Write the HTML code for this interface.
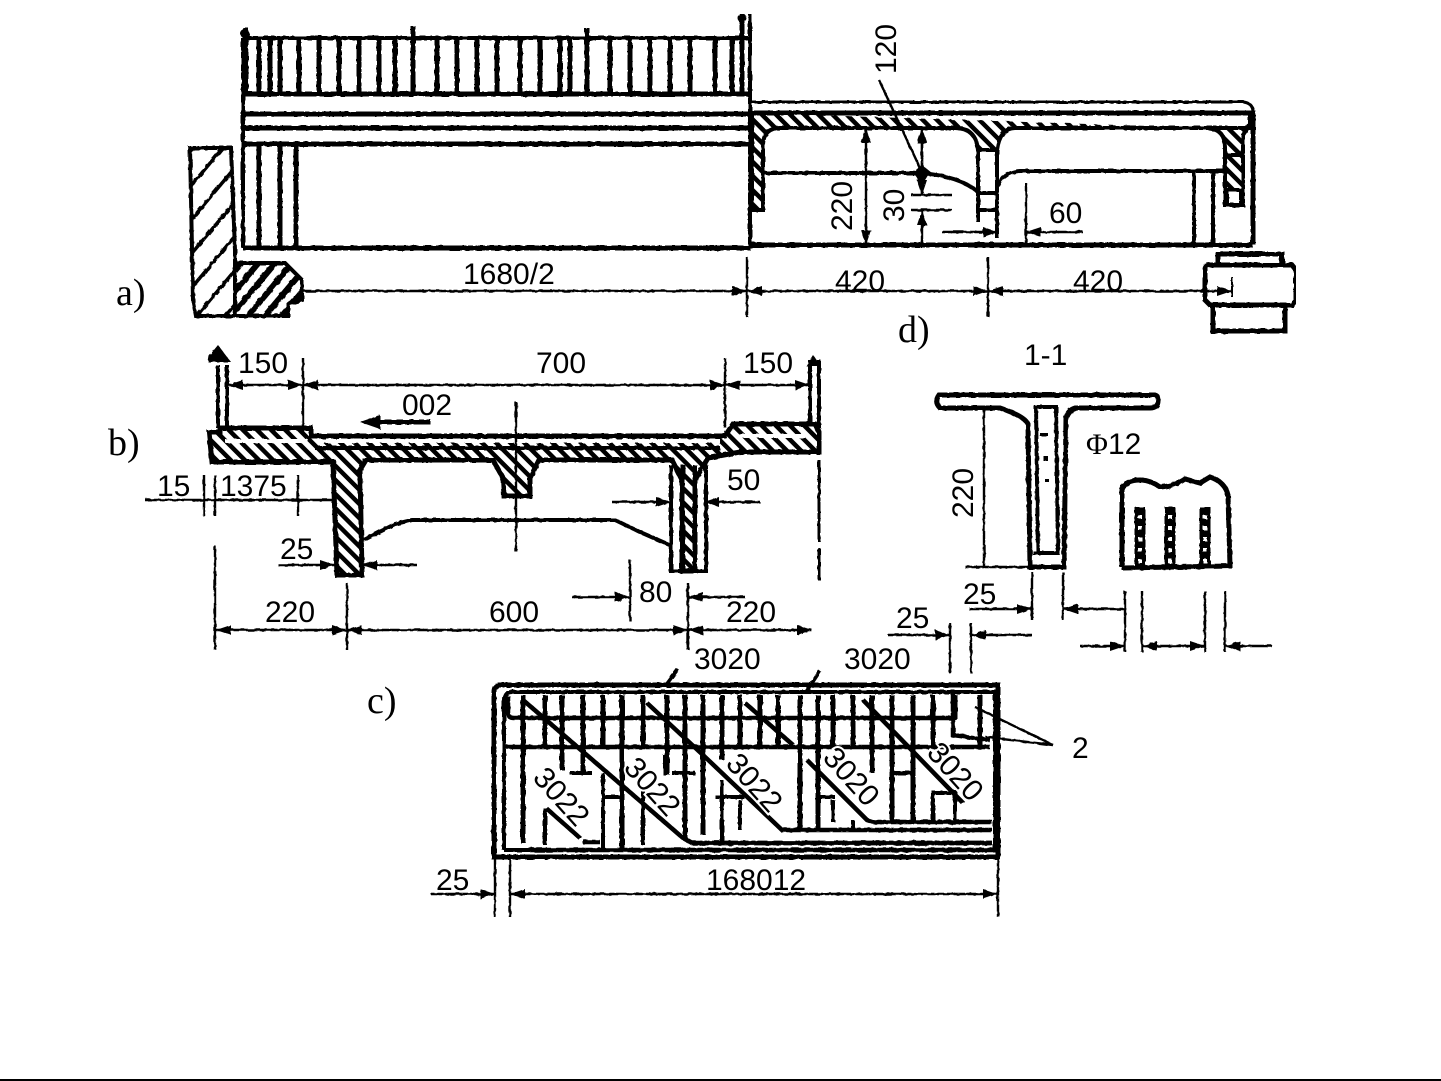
<!DOCTYPE html>
<html><head><meta charset="utf-8"><style>
html,body{margin:0;padding:0;background:#fff}
svg{display:block}
text{font-family:"Liberation Sans",sans-serif;font-size:30px;fill:#000}
.s{font-family:"Liberation Serif",serif;font-size:38px}
.d{stroke:#fff;stroke-width:4;paint-order:stroke;text-anchor:middle;dominant-baseline:central}
</style></head><body>
<svg width="1441" height="1081" viewBox="0 0 1441 1081" xmlns="http://www.w3.org/2000/svg">
<defs>
<marker id="a" markerUnits="userSpaceOnUse" markerWidth="16" markerHeight="12" refX="15" refY="5" orient="auto-start-reverse"><path d="M0 0L15 5L0 10Z"/></marker>
<pattern id="h" width="13" height="13" patternUnits="userSpaceOnUse" patternTransform="rotate(-50)"><rect width="13" height="13" fill="#fff"/><rect width="13" height="6" fill="#000"/></pattern>
<pattern id="k" width="10" height="10" patternUnits="userSpaceOnUse" patternTransform="rotate(45)"><rect width="10" height="10" fill="#fff"/><rect width="10" height="4.5" fill="#000"/></pattern>
<pattern id="w" width="22" height="22" patternUnits="userSpaceOnUse" patternTransform="rotate(-50)"><rect width="22" height="22" fill="#fff"/><rect width="22" height="3.5" fill="#000"/></pattern>
<filter id="r" x="0" y="0" width="100%" height="100%"><feTurbulence type="fractalNoise" baseFrequency="0.18" numOctaves="2" seed="4"/><feDisplacementMap in="SourceGraphic" scale="2.5"/></filter>
</defs>
<rect width="1441" height="1081" fill="#fff"/>
<g filter="url(#r)" fill="none" stroke="#000" stroke-width="3">
<!-- a: elevation -->
<path stroke-width="4" d="M243 248V38M243 38H748M750 14V248"/>
<path stroke-width="5" d="M243 94H750M243 114H750M243 128H750M243 144H750M243 248H750"/>
<path stroke-width="5" d="M246 28V92M259 38V92M270 38V92M280 38V92M299 38V92M319 38V92M339 38V92M359 38V92M379 38V92M395 38V92M413 26V92M437 38V92M457 38V92M477 38V92M497 38V92M520 38V92M540 38V92M560 38V92M570 38V92M587 28V92M610 38V92M630 38V92M650 38V92M670 38V92M690 38V92M715 38V92M732 38V92M742 14V92"/>
<path stroke-width="5" d="M259 144V248M280 144V248M296 144V248"/>
<circle cx="245" cy="34" r="3"/><circle cx="742" cy="18" r="3"/>
<path stroke-width="4" fill="url(#w)" d="M190 148H231L235 250V316H196L193 300Z"/>
<path stroke-width="4" fill="url(#h)" d="M235 263H285L302 280V300L288 304V316H235Z"/>
<!-- a: section -->
<path stroke-width="3" d="M750 102H1243Q1253 103 1253 112"/>
<path stroke-width="5" d="M750 113H1253V245M750 245H1253"/>
<path stroke-width="4" d="M750 100V248"/>
<path fill="url(#k)" stroke-width="4" d="M752 113H1250V128H1209Q1225 130 1225 147V205H1243V135L1253 120V113M752 113V210H763V144Q764 128 780 128H955Q976 128 978 150L997 150Q1000 128 1015 128H1209"/>
<path fill="#fff" stroke-width="4" d="M978 150V222M997 150V238M978 193H997M978 210H997M1225 155H1243M1227 190H1241V205H1227Z"/>
<path stroke-width="4" d="M763 173H920Q960 176 978 192M998 186Q1004 172 1020 171H1225"/>
<path stroke-width="4" d="M1194 172V245M1213 172V245"/>
<path stroke-width="5" d="M1205 270Q1205 265 1210 265H1292L1296 270V300L1292 305H1210L1205 300ZM1218 265V254H1282V265M1213 305V331H1285V305"/>
<path stroke-width="2" d="M1232 277V297"/>
<!-- a dims -->
<g stroke-width="2.4">
<path d="M747 257V317M988 257V317"/>
<path marker-end="url(#a)" d="M302 291H747"/>
<path marker-start="url(#a)" marker-end="url(#a)" d="M747 291H988"/>
<path marker-start="url(#a)" marker-end="url(#a)" d="M988 291H1232"/>
<path marker-start="url(#a)" marker-end="url(#a)" d="M866 128V245"/>
<path marker-start="url(#a)" d="M922 128V195"/>
<path marker-end="url(#a)" d="M922 245V210"/>
<path marker-end="url(#a)" d="M922 130V195"/>
<path d="M911 195H952M911 210H952M1026 183V245"/>
<path d="M879 80L920 168"/>
<path marker-end="url(#a)" d="M942 232H998"/>
<path marker-end="url(#a)" d="M1083 232H1026"/>
</g>
<path fill="#000" stroke="none" d="M913 172L930 172L922 185ZM922 165L932 173H914Z"/>
<!-- b section -->
<path stroke-width="4" d="M218 365V428M227 365V428M810 360V428M819 360V428"/>
<path fill="#000" stroke="none" d="M218 345L231 362L208 362L209 356ZM813 355L821 366H806Z"/>
<path fill="url(#k)" stroke-width="5" d="M209 432H220V428H311V436H725L733 424H815L819 432V452H740L708 458L695 480V571H682V480L672 460H539L530 478V496H504L503 478L493 460H366L360 470L362 575H337L333 462H212Z"/>
<path stroke="#fff" stroke-width="4" d="M225 441H308M738 436H808M318 441H720"/>
<path stroke-width="4" d="M315 436H725M315 448H720M362 460H495M537 460H672"/>
<path stroke-width="4" d="M671 465V571H706V465M683 465V571M695 465V571"/>
<path stroke-width="4" d="M362 541L395 524L412 520H615L640 532L672 546"/>
<path stroke-width="3" d="M819 460V542M819 548V580"/>
<!-- b dims -->
<g stroke-width="2.4">
<path d="M303 358V432M725 358V428M516 402V552M145 500H333M204 475V516M215 475V516M298 475V516M215 546V650M347 583V650M688 583V650M630 560V621"/>
<path marker-start="url(#a)" marker-end="url(#a)" d="M228 385H303"/>
<path marker-start="url(#a)" marker-end="url(#a)" d="M303 385H725"/>
<path marker-start="url(#a)" marker-end="url(#a)" d="M725 385H810"/>
<path marker-end="url(#a)" d="M278 565H335"/>
<path marker-end="url(#a)" d="M417 565H362"/>
<path marker-end="url(#a)" d="M612 502H671"/>
<path marker-end="url(#a)" d="M760 502H704"/>
<path marker-end="url(#a)" d="M572 597H630"/>
<path marker-end="url(#a)" d="M745 597H688"/>
<path marker-start="url(#a)" marker-end="url(#a)" d="M216 630H347"/>
<path marker-start="url(#a)" marker-end="url(#a)" d="M347 630H688"/>
<path marker-start="url(#a)" marker-end="url(#a)" d="M688 630H812"/>
</g>
<path stroke-width="5" d="M431 422H375"/><path fill="#000" stroke="none" d="M360 422L380 415V429Z"/>
<!-- c -->
<path stroke-width="5" d="M498 685H998V857H494V692Q494 685 500 685Z"/>
<path stroke-width="4" d="M504 850V700Q504 692 512 692H995V850H504"/>
<path stroke-width="4.5" d="M508 696V713Q508 718 514 718H953M502 747H990M953 693V735L990 740"/>
<path stroke-width="5" d="M523 695V843M545 695V747M562 695V770M583 695V773M603 695V747M622 695V850M643 695V747M667 695V775M685 695V840M703 695V835M722 695V760M740 695V747M760 695V747M778 695V745M800 695V830M818 695V830M833 695V745M853 695V745M872 695V773M892 695V822M913 695V822M933 695V745M955 695V720M980 695V745"/>
<path stroke-width="4" d="M545 808V845M603 773V850M643 790V845M722 780V845M740 800V830M818 790V822M833 800V822M853 820V830M913 800V822M933 790V822M955 790V822M665 755V775M570 773H592M603 797H620M672 773H695M715 797H745M818 797H835M890 773H912M933 793H955"/>
<path stroke-width="4.5" d="M523 700L683 838L692 843H992M647 703L703 755L782 830H992M745 703L793 745M807 760L867 820L873 822H992M863 700L963 803M546 808L580 838"/>
<path stroke-width="4.5" d="M583 842H600M530 850H992M700 843H992"/>
<path stroke-width="3.5" d="M678 669L666 685M820 671L806 692"/>
<path stroke-width="2.4" d="M1053 745L975 707M1053 745L985 737"/>
<g stroke-width="2.4">
<path d="M495 857V917M510 857V917M998 857V917"/>
<path marker-end="url(#a)" d="M431 894H495"/>
<path marker-start="url(#a)" marker-end="url(#a)" d="M510 894H998"/>
</g>
<!-- d -->
<path stroke-width="5" d="M939 395H1155Q1159 396 1158 401Q1158 408 1150 408H1075Q1068 410 1066 418L1064 567H1030L1028 424Q1024 416 1000 408H940Q934 402 939 395Z"/>
<path stroke-width="4" d="M1036 407H1056L1058 553H1038ZM1033 553H1060"/>
<path fill="#000" stroke="none" d="M1040 433h8v3h-8zM1043 456h5v5h-5zM1045 479h4v3h-4z"/>
<path stroke-width="5" d="M1122 567V490Q1125 480 1140 480Q1150 480 1160 487Q1175 486 1185 479L1200 483L1210 477Q1225 482 1228 495L1230 566L1122 568"/>
<path stroke-width="11" d="M1140 507V567M1170 507V567M1205 507V567"/>
<path stroke="#fff" stroke-width="4" stroke-dasharray="4 7" d="M1140 515V565M1170 515V565M1205 515V565"/>
<g stroke-width="2.4">
<path d="M984 408V567M965 567H1030M1032 572V620M1063 572V620M950 623V673M971 623V673M1125 591V652M1142 591V652M1205 591V652M1225 591V652"/>
<path marker-end="url(#a)" d="M969 609H1032"/>
<path marker-end="url(#a)" d="M1125 609H1063"/>
<path marker-end="url(#a)" d="M888 635H950"/>
<path marker-end="url(#a)" d="M1032 635H971"/>
<path marker-end="url(#a)" d="M1080 646H1125"/>
<path marker-start="url(#a)" marker-end="url(#a)" d="M1142 646H1205"/>
<path marker-end="url(#a)" d="M1272 646H1225"/>
</g>
</g>
<rect y="1079" width="1441" height="2" fill="#000"/>
<!-- labels -->
<g>
<text class="s" x="116" y="305">a)</text>
<text class="s" x="108" y="455">b)</text>
<text class="s" x="367" y="713">c)</text>
<text class="s" x="898" y="342">d)</text>
<text x="463" y="284">1680/2</text>
<text x="835" y="291">420</text>
<text x="1073" y="291">420</text>
<text x="1049" y="223">60</text>
<text transform="translate(896 74) rotate(-90)">120</text>
<text transform="translate(852 231) rotate(-90)">220</text>
<text transform="translate(904 222) rotate(-90)">30</text>
<text x="238" y="373">150</text>
<text x="536" y="373">700</text>
<text x="743" y="373">150</text>
<text x="402" y="415">002</text>
<text x="157" y="496">15</text>
<text x="220" y="496">1375</text>
<text x="280" y="559">25</text>
<text x="727" y="490">50</text>
<text x="639" y="602">80</text>
<text x="265" y="622">220</text>
<text x="489" y="622">600</text>
<text x="726" y="622">220</text>
<text x="694" y="669">3020</text>
<text x="844" y="669">3020</text>
<text x="1072" y="758">2</text>
<text x="706" y="890">168012</text>
<text x="436" y="890">25</text>
<text x="1024" y="365">1-1</text>
<text x="1086" y="454"><tspan style="font-family:'Liberation Serif',serif">Φ</tspan>12</text>
<text transform="translate(973 518) rotate(-90)">220</text>
<text x="963" y="604">25</text>
<text x="896" y="628">25</text>
<text class="d" transform="translate(561 797) rotate(48)">3022</text>
<text class="d" transform="translate(652 787) rotate(48)">3022</text>
<text class="d" transform="translate(754 783) rotate(48)">3022</text>
<text class="d" transform="translate(851 777) rotate(48)">3020</text>
<text class="d" transform="translate(955 772) rotate(48)">3020</text>
</g>
</svg>
</body></html>
